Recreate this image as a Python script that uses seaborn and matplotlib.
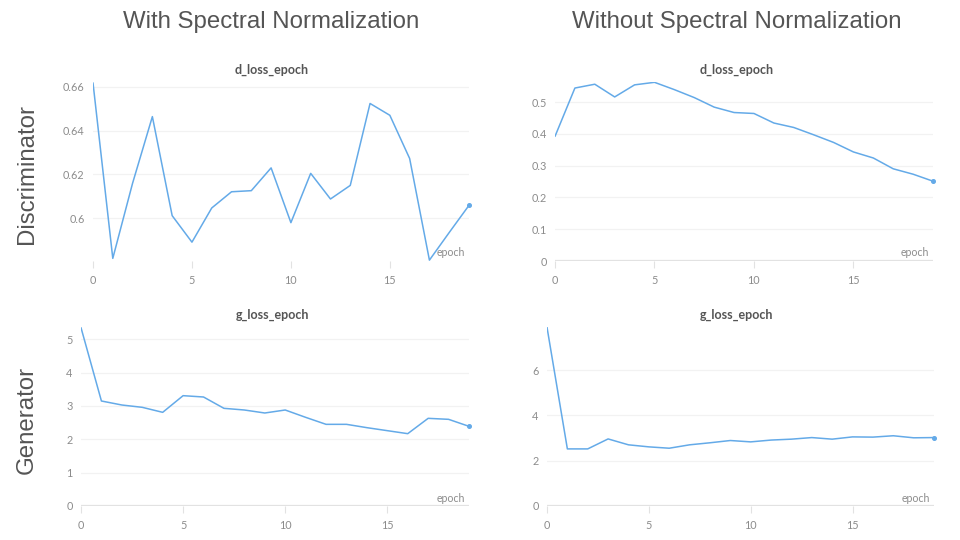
import numpy as np
import pandas as pd
import matplotlib
matplotlib.use("Agg")
import matplotlib.pyplot as plt
from matplotlib.ticker import FuncFormatter, FixedLocator
import seaborn as sns

epochs = list(range(20))
d_loss_sn = [0.6618, 0.5817, 0.6160, 0.6464, 0.6012, 0.5891, 0.6047, 0.6121, 0.6126, 0.6230,
             0.5980, 0.6205, 0.6088, 0.6150, 0.6524, 0.6470, 0.6273, 0.5809, 0.5935, 0.6059]
d_loss_nosn = [0.392, 0.544, 0.556, 0.516, 0.554, 0.562, 0.539, 0.514, 0.484, 0.467,
               0.464, 0.434, 0.420, 0.397, 0.373, 0.343, 0.324, 0.290, 0.273, 0.251]
g_loss_sn = [5.35, 3.15, 3.03, 2.96, 2.81, 3.31, 3.27, 2.93, 2.88, 2.79,
             2.88, 2.66, 2.45, 2.45, 2.35, 2.26, 2.17, 2.63, 2.60, 2.39]
g_loss_nosn = [7.89, 2.52, 2.52, 2.96, 2.70, 2.61, 2.55, 2.70, 2.79, 2.89,
               2.83, 2.91, 2.95, 3.02, 2.95, 3.05, 3.04, 3.10, 3.01, 3.02]

col_titles = ["With Spectral Normalization", "Without Spectral Normalization"]
row_titles = ["Discriminator", "Generator"]
panel_titles = ["d_loss_epoch", "d_loss_epoch", "g_loss_epoch", "g_loss_epoch"]
x_ticks = [0, 5, 10, 15]
y_ticks = [[0.6, 0.62, 0.64, 0.66], [0, 0.1, 0.2, 0.3, 0.4, 0.5], [0, 1, 2, 3, 4, 5], [0, 2, 4, 6]]

sns.set_theme(style="white")
plt.rcParams['font.family'] = ['Lato', 'DejaVu Sans']

LINE = "#64aae8"
TICKC = "#8c8c8c"
GRID = "#f2f2f2"
BASE = "#e2e2e2"

fig = plt.figure(figsize=(9.6, 5.4), dpi=100)
W, H = 960.0, 540.0

def ax_rect(l, r, t, b):
    return [l / W, 1 - b / H, (r - l) / W, (b - t) / H]

rects = [ax_rect(93, 469, 82, 261), ax_rect(555, 933, 82, 261),
         ax_rect(81, 469, 327, 506), ax_rect(547, 934, 327, 506)]
series = [d_loss_sn, d_loss_nosn, g_loss_sn, g_loss_nosn]
ylims = [(0.5805, 0.6622), (0, 0.563), (0, 5.37), (0, 7.9)]
has_base = [False, True, True, True]
title_x = [272, 737, 272, 737]
title_y = [70, 70, 315, 315]
epoch_y = [253, 253, 498, 498]

for i in range(4):
    ax = fig.add_axes(rects[i])
    df = pd.DataFrame({"epoch": epochs, "value": series[i]})
    sns.lineplot(data=df, x="epoch", y="value", ax=ax, color=LINE, lw=1.1, zorder=3)
    ax.plot([epochs[-1]], [series[i][-1]], "o", color=LINE, ms=2.6, zorder=4, clip_on=False)
    ax.set_xlim(0, 19)
    ax.set_ylim(*ylims[i])
    ax.set_xlabel("")
    ax.set_ylabel("")
    for s in ax.spines.values():
        s.set_visible(False)
    ax.yaxis.set_major_locator(FixedLocator(y_ticks[i]))
    ax.yaxis.set_major_formatter(FuncFormatter(lambda v, p: f"{v:g}"))
    ax.xaxis.set_major_locator(FixedLocator(x_ticks))
    ax.grid(axis="y", color=GRID, lw=0.9, zorder=0)
    ax.grid(axis="x", visible=False)
    if has_base[i]:
        ax.axhline(0, color=BASE, lw=1.6, zorder=1)
    ax.tick_params(axis="y", length=0, pad=6, labelsize=7.8, labelcolor=TICKC)
    ax.tick_params(axis="x", length=5, width=0.8, color=BASE, pad=5, labelsize=7.8,
                   labelcolor=TICKC, direction="out", bottom=True)
    ax.set_facecolor("white")
    fig.text(title_x[i] / W, 1 - title_y[i] / H, panel_titles[i], ha="center", va="center",
             fontsize=9, fontweight="bold", color="#555555")
    fig.text((rects[i][0] + rects[i][2]) - 4 / W, 1 - epoch_y[i] / H, "epoch", ha="right",
             va="center", fontsize=7.6, color=TICKC)

TF = ["Liberation Sans", "DejaVu Sans"]
fig.text(271 / W, 1 - 22 / H, col_titles[0], ha="center", va="center", fontsize=17.3,
         color="#555555", family=TF)
fig.text(737 / W, 1 - 22 / H, col_titles[1], ha="center", va="center", fontsize=17.3,
         color="#555555", family=TF)
fig.text(27 / W, 1 - 174 / H, row_titles[0], ha="center", va="center", rotation=90,
         fontsize=17.3, color="#555555", family=TF)
fig.text(27 / W, 1 - 420 / H, row_titles[1], ha="center", va="center", rotation=90,
         fontsize=17.3, color="#555555", family=TF)

fig.savefig("out.png", dpi=100, facecolor="white")
